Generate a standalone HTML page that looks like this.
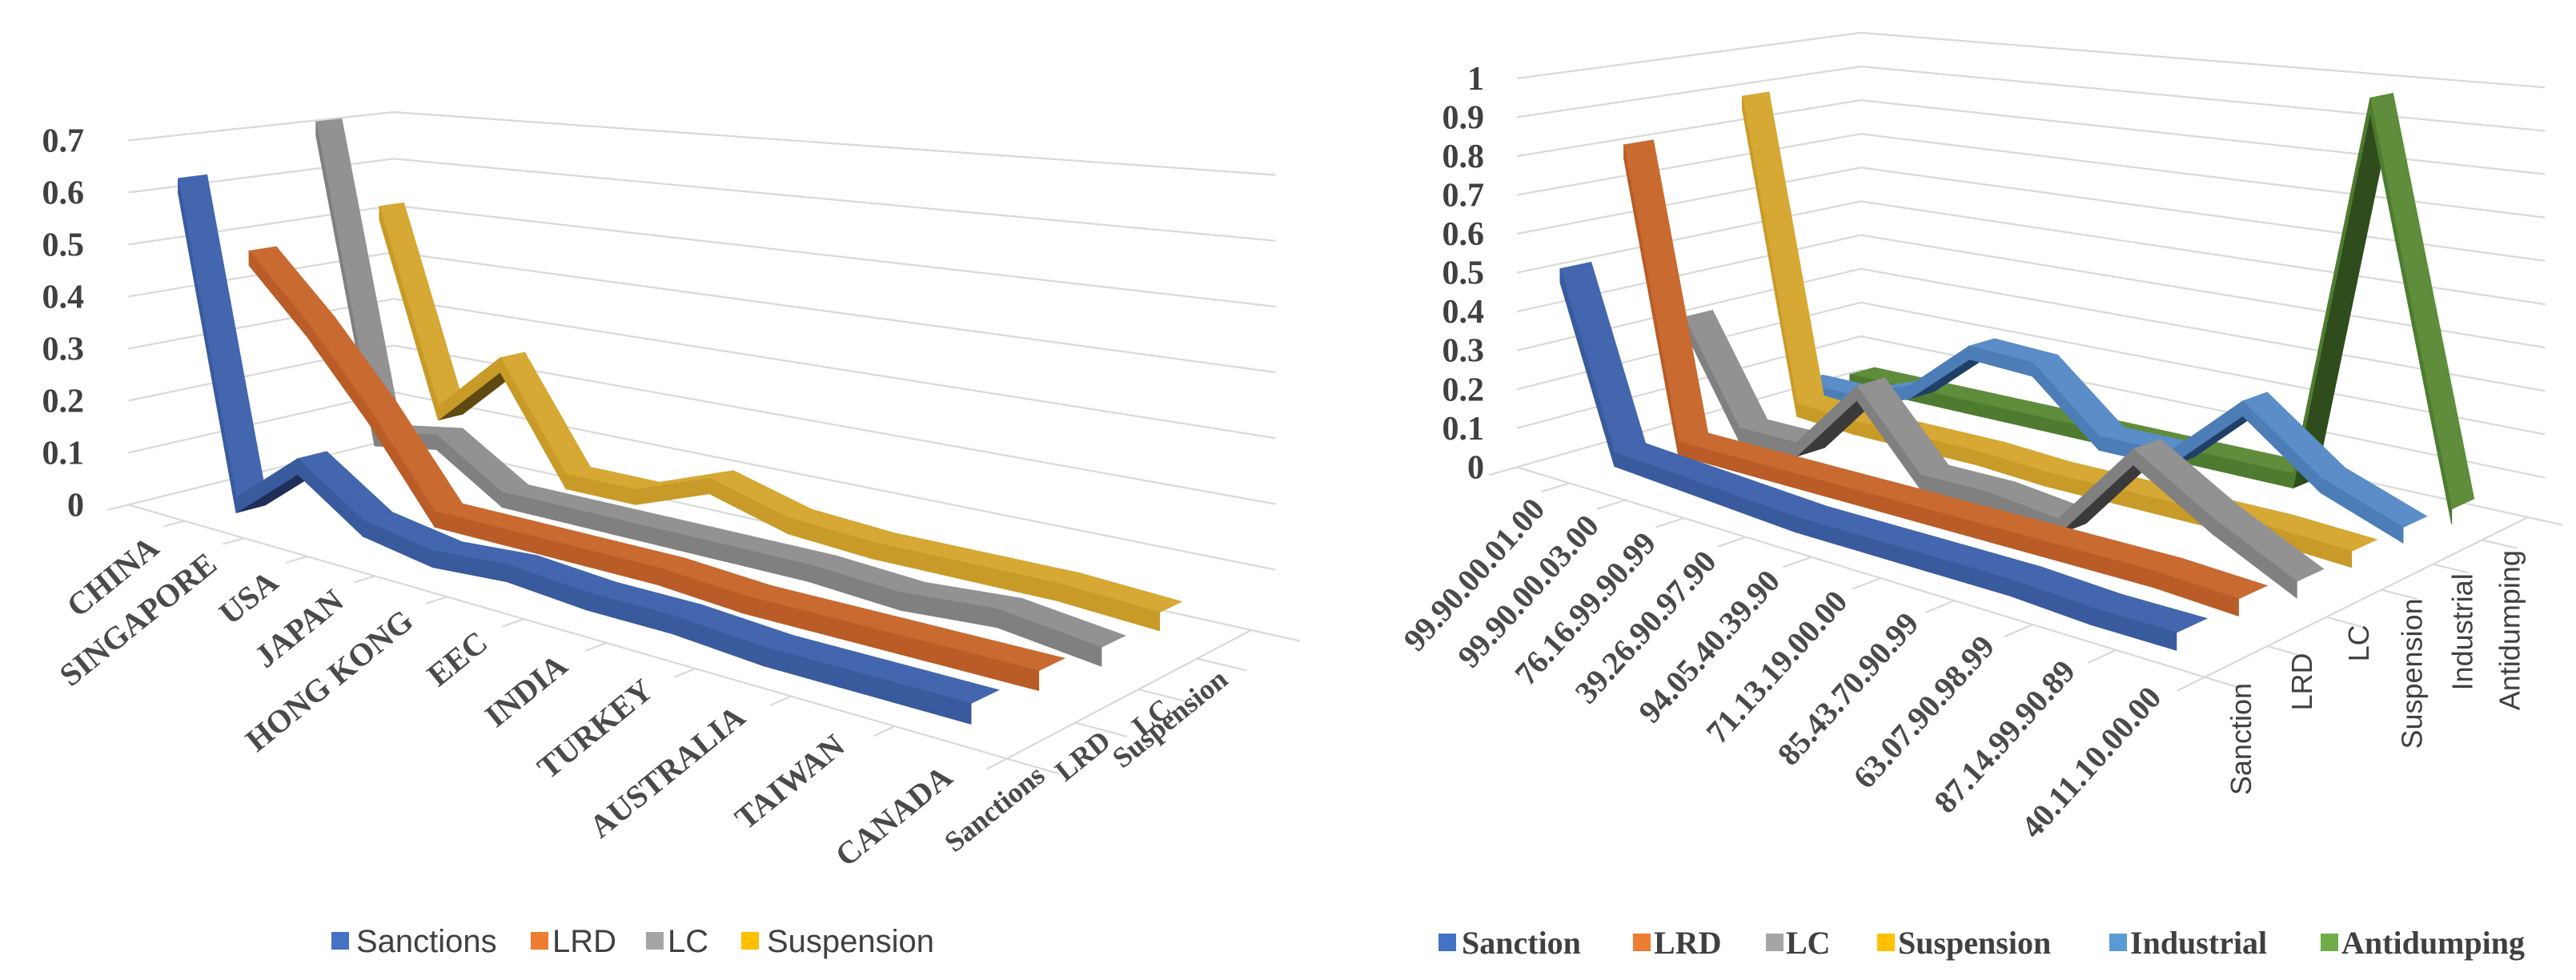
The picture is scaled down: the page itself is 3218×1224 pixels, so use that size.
<!DOCTYPE html>
<html><head><meta charset="utf-8"><title>3D line charts</title>
<style>
html,body{margin:0;padding:0;background:#fff;}
svg{display:block;}
.ylab{font-family:"Liberation Serif",serif;font-weight:bold;font-size:42px;fill:#404040;}
.clab{font-family:"Liberation Serif",serif;font-weight:bold;font-size:40px;fill:#4a4a4a;}
.slabL{font-family:"Liberation Serif",serif;font-weight:bold;font-size:36px;fill:#4a4a4a;}
.slabR{font-family:"Liberation Sans",sans-serif;font-size:36px;fill:#404040;}
.legL{font-family:"Liberation Sans",sans-serif;font-size:40px;fill:#404040;}
.legR{font-family:"Liberation Serif",serif;font-weight:bold;font-size:40px;fill:#404040;}
</style></head>
<body>
<svg id="chart" width="3218" height="1224" viewBox="0 0 3218 1224" xmlns="http://www.w3.org/2000/svg">
<g id="left-chart"></g>
<g id="right-chart"></g>
<g>
  <rect x="414" y="1164" width="22" height="22" fill="#4472C4"/>
  <text class="legL" x="445" y="1189">Sanctions</text>
  <rect x="663" y="1164" width="22" height="22" fill="#ED7D31"/>
  <text class="legL" x="690" y="1189">LRD</text>
  <rect x="807" y="1164" width="22" height="22" fill="#A5A5A5"/>
  <text class="legL" x="834" y="1189">LC</text>
  <rect x="926" y="1164" width="22" height="22" fill="#FFC000"/>
  <text class="legL" x="958" y="1189">Suspension</text>
</g>
<g>
  <rect x="1797" y="1166" width="22" height="22" fill="#4472C4"/>
  <text class="legR" x="1826" y="1191">Sanction</text>
  <rect x="2040" y="1166" width="22" height="22" fill="#ED7D31"/>
  <text class="legR" x="2066" y="1191">LRD</text>
  <rect x="2206" y="1166" width="22" height="22" fill="#A5A5A5"/>
  <text class="legR" x="2231" y="1191">LC</text>
  <rect x="2345" y="1166" width="22" height="22" fill="#FFC000"/>
  <text class="legR" x="2371" y="1191">Suspension</text>
  <rect x="2635" y="1166" width="22" height="22" fill="#5B9BD5"/>
  <text class="legR" x="2661" y="1191">Industrial</text>
  <rect x="2899" y="1166" width="22" height="22" fill="#70AD47"/>
  <text class="legR" x="2925" y="1191">Antidumping</text>
</g>
</svg>
<script>
// ---------- LEFT CHART DATA ----------
const leftCategories = ["CHINA","SINGAPORE","USA","JAPAN","HONG KONG","EEC","INDIA","TURKEY","AUSTRALIA","TAIWAN","CANADA"];
const leftSeriesNames = ["Sanctions","LRD","LC","Suspension"];
const leftSanctions  = [0.60,0.02,0.12,0.04,0.02,0.03,0.02,0.02,0.01,0.01,0.01];
const leftLRD        = [0.44,0.32,0.18,0.02,0.02,0.02,0.02,0.01,0.01,0.01,0.01];
const leftLC         = [0.68,0.08,0.10,0.02,0.02,0.02,0.02,0.02,0.01,0.02,0.00];
const leftSuspension = [0.49,0.10,0.22,0.02,0.02,0.07,0.03,0.02,0.02,0.02,0.01];
const leftTicks = ["0","0.1","0.2","0.3","0.4","0.5","0.6","0.7"];
const leftTickValues = [0,0.1,0.2,0.3,0.4,0.5,0.6,0.7];

// ---------- RIGHT CHART DATA ----------
const rightCategories = ["99.90.00.01.00","99.90.00.03.00","76.16.99.90.99","39.26.90.97.90","94.05.40.39.90","71.13.19.00.00","85.43.70.90.99","63.07.90.98.99","87.14.99.90.89","40.11.10.00.00"];
const rightSeriesNames = ["Sanction","LRD","LC","Suspension","Industrial","Antidumping"];
const rightSanction    = [0.48,0.05,0.04,0.03,0.02,0.02,0.02,0.02,0.01,0.01];
const rightLRD         = [0.77,0.03,0.03,0.03,0.03,0.03,0.03,0.03,0.03,0.02];
const rightLC          = [0.28,0.02,0.02,0.20,0.02,0.02,0.00,0.20,0.09,0.00];
const rightSuspension  = [0.85,0.04,0.03,0.03,0.03,0.02,0.02,0.02,0.02,0.01];
const rightIndustrial  = [0.02,0.02,0.08,0.22,0.21,0.06,0.06,0.22,0.08,0.01];
const rightAntidumping = [0.0,0.0,0.0,0.0,0.0,0.0,0.0,0.0,0.93,0.0];
const rightTicks = ["0","0.1","0.2","0.3","0.4","0.5","0.6","0.7","0.8","0.9","1"];
const rightTickValues = [0,0.1,0.2,0.3,0.4,0.5,0.6,0.7,0.8,0.9,1];

const NS = "http://www.w3.org/2000/svg";
const SX = 1/0.966, SY = 1/1.277;

function makeProj(c){
  const [x0,y0]=c.FL,[x1,y1]=c.FR,[x2,y2]=c.BR,[x3,y3]=c.BL;
  const dx1=x1-x2,dy1=y1-y2,dx2=x3-x2,dy2=y3-y2,dx3=x0-x1+x2-x3,dy3=y0-y1+y2-y3;
  const den=dx1*dy2-dx2*dy1;
  const g=(dx3*dy2-dx2*dy3)/den, h=(dx1*dy3-dx3*dy1)/den;
  const a=x1-x0+g*x1, b=x3-x0+h*x3, d=y1-y0+g*y1, e=y3-y0+h*y3;
  return function(u,v,val){
    const D=1+g*u+h*v;
    const x=(a*u+b*v+x0)/D, y=(d*u+e*v+y0)/D - val*c.H0/D;
    return [c.offX + x*SX, y*SY];
  };
}
function pts(arr){return arr.map(p=>p[0].toFixed(1)+","+p[1].toFixed(1)).join(" ");}
function area(arr){let s=0;for(let i=0;i<arr.length;i++){const p=arr[i],q=arr[(i+1)%arr.length];s+=p[0]*q[1]-q[0]*p[1];}return s/2;}

function buildChart(cfg){
  const root=document.getElementById(cfg.rootId);
  const P=makeProj(cfg);
  const nC=cfg.categories.length, nS=cfg.series.length;
  const catU=i=>(i+0.5)/nC;
  const serV=s=>(s+0.5)/nS;
  cfg.tickValues.forEach((tv,k)=>{
    const l=document.createElementNS(NS,"polyline");
    
    
    l.setAttribute("points",pts([P(0,0,tv),P(0,1,tv),P(1.02,1,tv)]));
    l.setAttribute("fill","none");l.setAttribute("stroke","#d9d9d9");l.setAttribute("stroke-width","2.2");
    root.appendChild(l);
    const t=document.createElementNS(NS,"text");
    
    
    const p=P(0,0,tv);
    t.setAttribute("x",cfg.yLabelX);t.setAttribute("y",(p[1]+14).toFixed(1));
    t.setAttribute("text-anchor","end");t.setAttribute("class","ylab");
    t.textContent=cfg.ticks[k];root.appendChild(t);
  });
  const fe=document.createElementNS(NS,"polyline");
  
  
  fe.setAttribute("points",pts([P(0,0,0),P(1,0,0),P(1,1,0)]));
  fe.setAttribute("fill","none");fe.setAttribute("stroke","#d9d9d9");fe.setAttribute("stroke-width","2.2");
  root.appendChild(fe);
  for(let i=0;i<=nC;i++){
    const tk=document.createElementNS(NS,"line");
    
    
    const a=P(i/nC,0,0),b=P(i/nC,-0.07,0);
    tk.setAttribute("x1",a[0]);tk.setAttribute("y1",a[1]);tk.setAttribute("x2",b[0]);tk.setAttribute("y2",b[1]);
    tk.setAttribute("stroke","#d9d9d9");tk.setAttribute("stroke-width","2.2");root.appendChild(tk);
  }
  for(let s=0;s<=nS;s++){
    const tk=document.createElementNS(NS,"line");
    
    
    const a=P(1,s/nS,0),b=P(1.04,s/nS,0);
    tk.setAttribute("x1",a[0]);tk.setAttribute("y1",a[1]);tk.setAttribute("x2",b[0]);tk.setAttribute("y2",b[1]);
    tk.setAttribute("stroke","#d9d9d9");tk.setAttribute("stroke-width","2.2");root.appendChild(tk);
  }
  cfg.categories.forEach((c,i)=>{
    const p=P(catU(i),0,0);
    const x=p[0]+cfg.catOff[0], y=p[1]+cfg.catOff[1];
    const t=document.createElementNS(NS,"text");
    
    
    t.setAttribute("class","clab");t.setAttribute("text-anchor","end");
    t.setAttribute("transform","translate("+x.toFixed(1)+","+y.toFixed(1)+") rotate("+cfg.catRot+")");
    t.textContent=c;root.appendChild(t);
  });
  cfg.series.forEach((s,k)=>{
    const p=P(1,serV(k),0);
    const x=p[0]+cfg.serOff[0], y=p[1]+cfg.serOff[1];
    const t=document.createElementNS(NS,"text");
    
    
    t.setAttribute("class",cfg.serClass);t.setAttribute("text-anchor","end");
    t.setAttribute("transform","translate("+x.toFixed(1)+","+y.toFixed(1)+") rotate("+cfg.serRot+")");
    t.textContent=s.name;root.appendChild(t);
  });
  for(let k=nS-1;k>=0;k--){
    const s=cfg.series[k], v=serV(k), dv=cfg.dv, th=cfg.th;
    const g=document.createElementNS(NS,"g");
    
    
    root.appendChild(g);
    for(let i=0;i<nC-1;i++){
      const u1=catU(i),u2=catU(i+1),a=s.values[i],b=s.values[i+1];
      const top=[P(u1,v-dv,a+th),P(u2,v-dv,b+th),P(u2,v+dv,b+th),P(u1,v+dv,a+th)];
      const bot=[P(u1,v-dv,a),P(u2,v-dv,b),P(u2,v+dv,b),P(u1,v+dv,a)];
      const front=[P(u1,v-dv,a),P(u2,v-dv,b),P(u2,v-dv,b+th),P(u1,v-dv,a+th)];
      const visTop=area(top)<0;
      const f1=document.createElementNS(NS,"polygon");
      
      
      if(visTop){f1.setAttribute("points",pts(top));f1.setAttribute("fill",s.top);}
      else{f1.setAttribute("points",pts(bot));f1.setAttribute("fill",s.under);}
      f1.setAttribute("stroke",visTop?s.top:s.under);f1.setAttribute("stroke-width","1");
      g.appendChild(f1);
      const f2=document.createElementNS(NS,"polygon");
      
      
      f2.setAttribute("points",pts(front));f2.setAttribute("fill",s.front);
      f2.setAttribute("stroke",s.front);f2.setAttribute("stroke-width","1");
      g.appendChild(f2);
    }
  }
}

buildChart({
  rootId:"left-chart", offX:0,
  FL:[155,805], FR:[1215,1210], BR:[1510,1005], BL:[475,700], H0:830,
  categories:leftCategories, ticks:leftTicks, tickValues:leftTickValues,
  yLabelX:105, catOff:[6,48], catRot:-39, serOff:[6,48], serRot:-39, serClass:"slabL",
  dv:0.05, th:0.028,
  series:[
    {name:"Sanctions",values:leftSanctions,top:"#4366AE",front:"#3A5A9E",under:"#1E2E58"},
    {name:"LRD",values:leftLRD,top:"#C96A31",front:"#B95C27",under:"#6B3312"},
    {name:"LC",values:leftLC,top:"#929292",front:"#808080",under:"#3A3A3A"},
    {name:"Suspension",values:leftSuspension,top:"#D6A834",front:"#C89A28",under:"#5E4A10"}
  ]
});
buildChart({
  rootId:"right-chart", offX:1600,
  FL:[285,745], FR:[1115,1080], BR:[1505,825], BL:[700,590], H0:620,
  categories:rightCategories, ticks:rightTicks, tickValues:rightTickValues,
  yLabelX:1854, catOff:[4,44], catRot:-48, serOff:[18,27], serRot:-90, serClass:"slabR",
  dv:0.04, th:0.035,
  series:[
    {name:"Sanction",values:rightSanction,top:"#4366AE",front:"#3A5A9E",under:"#1E2E58"},
    {name:"LRD",values:rightLRD,top:"#C96A31",front:"#B95C27",under:"#6B3312"},
    {name:"LC",values:rightLC,top:"#929292",front:"#808080",under:"#3A3A3A"},
    {name:"Suspension",values:rightSuspension,top:"#D6A834",front:"#C89A28",under:"#5E4A10"},
    {name:"Industrial",values:rightIndustrial,top:"#5B8DC8",front:"#4C7DB7",under:"#1F3F66"},
    {name:"Antidumping",values:rightAntidumping,top:"#5F8D3B",front:"#4F7B30",under:"#2F4D1C"}
  ]
});
</script>
</body></html>
